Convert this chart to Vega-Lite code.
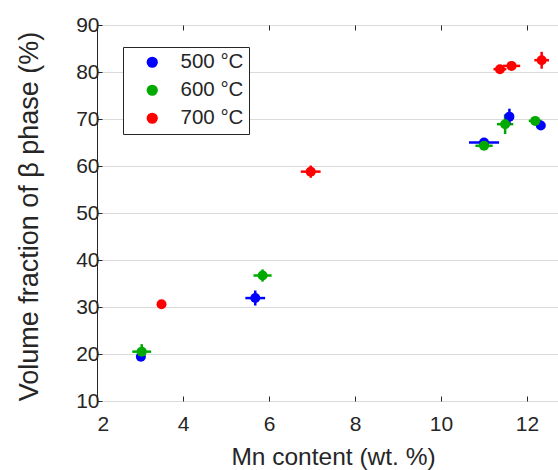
{
  "$schema": "https://vega.github.io/schema/vega-lite/v6.json",
  "width": 461,
  "height": 376,
  "autosize": {"type": "none"},
  "padding": {"left": 97, "top": 25, "right": 0, "bottom": 69},
  "background": "white",
  "config": {
    "font": "Liberation Sans",
    "view": {"stroke": "#262626", "strokeWidth": 1},
    "axis": {
      "domainColor": "#262626",
      "tickColor": "#262626",
      "labelColor": "#262626",
      "titleColor": "#262626",
      "gridColor": "#dadada",
      "labelFont": "Liberation Sans",
      "titleFont": "Liberation Sans",
      "labelFontSize": 21,
      "titleFontSize": 24.5,
      "titleFontWeight": "normal",
      "tickSize": -5
    }
  },
  "data": {
    "values": [
      {"T": "500 °C", "Mn": 3.02, "Vf": 19.4, "xlo": 2.92, "xhi": 3.12, "ylo": 18.9, "yhi": 19.9},
      {"T": "500 °C", "Mn": 5.68, "Vf": 31.9, "xlo": 5.45, "xhi": 5.91, "ylo": 30.3, "yhi": 33.5},
      {"T": "500 °C", "Mn": 11.0, "Vf": 65.0, "xlo": 10.65, "xhi": 11.35, "ylo": 64.2, "yhi": 65.8},
      {"T": "500 °C", "Mn": 11.59, "Vf": 70.5, "xlo": 11.49, "xhi": 11.69, "ylo": 68.8, "yhi": 72.2},
      {"T": "500 °C", "Mn": 12.32, "Vf": 68.6, "xlo": 12.22, "xhi": 12.42, "ylo": 68.1, "yhi": 69.1},
      {"T": "600 °C", "Mn": 3.04, "Vf": 20.5, "xlo": 2.82, "xhi": 3.26, "ylo": 18.9, "yhi": 22.1},
      {"T": "600 °C", "Mn": 5.85, "Vf": 36.7, "xlo": 5.64, "xhi": 6.06, "ylo": 35.4, "yhi": 38.0},
      {"T": "600 °C", "Mn": 11.0, "Vf": 64.3, "xlo": 10.8, "xhi": 11.2, "ylo": 63.5, "yhi": 65.1},
      {"T": "600 °C", "Mn": 11.49, "Vf": 68.9, "xlo": 11.3, "xhi": 11.68, "ylo": 66.8, "yhi": 71.0},
      {"T": "600 °C", "Mn": 12.19, "Vf": 69.6, "xlo": 12.04, "xhi": 12.34, "ylo": 69.1, "yhi": 70.1},
      {"T": "700 °C", "Mn": 3.5, "Vf": 30.6, "xlo": 3.4, "xhi": 3.6, "ylo": 30.1, "yhi": 31.1},
      {"T": "700 °C", "Mn": 6.97, "Vf": 58.8, "xlo": 6.74, "xhi": 7.2, "ylo": 57.5, "yhi": 60.1},
      {"T": "700 °C", "Mn": 11.37, "Vf": 80.6, "xlo": 11.22, "xhi": 11.52, "ylo": 80.1, "yhi": 81.1},
      {"T": "700 °C", "Mn": 11.64, "Vf": 81.3, "xlo": 11.44, "xhi": 11.84, "ylo": 80.5, "yhi": 82.1},
      {"T": "700 °C", "Mn": 12.34, "Vf": 82.5, "xlo": 12.17, "xhi": 12.51, "ylo": 80.7, "yhi": 84.3}
    ]
  },
  "resolve": {"axis": {"x": "independent"}},
  "layer": [
    {
      "mark": {"type": "rule", "strokeWidth": 2.5},
      "encoding": {
        "x": {"field": "xlo", "type": "quantitative", "scale": {"domain": [2, 12.72], "nice": false, "zero": false},
          "axis": {"orient": "top", "labels": false, "title": null, "grid": false, "domain": false, "values": [2, 4, 6, 8, 10, 12]}},
        "x2": {"field": "xhi"},
        "y": {"field": "Vf", "type": "quantitative", "title": "Volume fraction of β phase (%)", "scale": {"domain": [10, 90], "nice": false, "zero": false}},
        "color": {"field": "T", "type": "nominal", "title": " ",
          "scale": {"domain": ["500 °C", "600 °C", "700 °C"], "range": ["#0000ff", "#00aa00", "#ff0000"]}}
      }
    },
    {
      "mark": {"type": "rule", "strokeWidth": 2.5},
      "encoding": {
        "x": {"field": "Mn", "type": "quantitative", "axis": null, "scale": {"domain": [2, 12.72], "nice": false, "zero": false}},
        "y": {"field": "ylo", "type": "quantitative", "title": "Volume fraction of β phase (%)", "scale": {"domain": [10, 90], "nice": false, "zero": false}},
        "y2": {"field": "yhi"},
        "color": {"field": "T", "type": "nominal", "title": " ",
          "scale": {"domain": ["500 °C", "600 °C", "700 °C"], "range": ["#0000ff", "#00aa00", "#ff0000"]}}
      }
    },
    {
      "mark": {"type": "point", "filled": true, "shape": "circle", "size": 100, "opacity": 1},
      "encoding": {
        "x": {"field": "Mn", "type": "quantitative", "title": "Mn content (wt. %)",
          "scale": {"domain": [2, 12.72], "nice": false, "zero": false},
          "axis": {"values": [2, 4, 6, 8, 10, 12], "labelPadding": 17, "titlePadding": 11, "titleX": 236, "domain": false}},
        "y": {"field": "Vf", "type": "quantitative", "title": "Volume fraction of β phase (%)",
          "scale": {"domain": [10, 90], "nice": false, "zero": false},
          "axis": {"values": [10, 20, 30, 40, 50, 60, 70, 80, 90], "labelPadding": 3, "titlePadding": 32, "titleFontSize": 27, "titleY": 191, "domain": false}},
        "color": {"field": "T", "type": "nominal", "title": " ",
          "scale": {"domain": ["500 °C", "600 °C", "700 °C"], "range": ["#0000ff", "#00aa00", "#ff0000"]},
          "legend": {
            "orient": "none", "legendX": 26, "legendY": 22,
            "strokeColor": "#262626", "fillColor": "white", "padding": 5,
            "titleOrient": "left", "titleFontSize": 1, "titlePadding": 14,
            "symbolType": "circle", "symbolSize": 95, "symbolOffset": 0,
            "labelFontSize": 20.5, "labelColor": "#262626", "labelOffset": 18,
            "rowPadding": 7, "labelFont": "Liberation Sans"
          }}
      }
    }
  ]
}
